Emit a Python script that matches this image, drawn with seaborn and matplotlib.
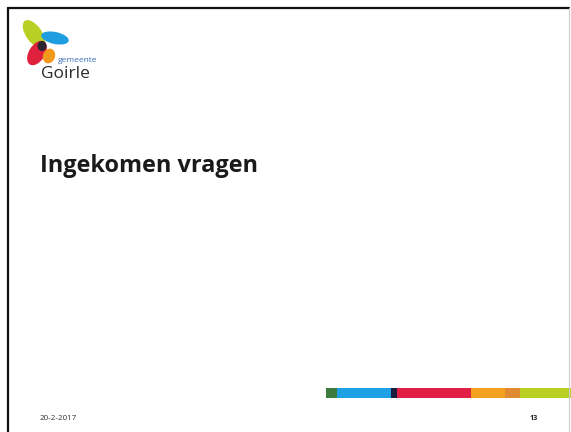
import numpy as np
import matplotlib
matplotlib.use("Agg")
import matplotlib.pyplot as plt
import seaborn as sns
from matplotlib.patches import Ellipse

sns.set_theme(style="white")
plt.rcParams['font.family'] = ['Open Sans', 'DejaVu Sans']

# --- slide content ---
TITLE = "Ingekomen vragen"
DATE = "20-2-2017"
PAGE = "13"

# colour band at the bottom (segment widths in px, colours)
band_widths = [11, 54, 6, 74, 34, 15, 51]
band_colors = ["#3d7a3e", "#1ea0e4", "#1b1d3c", "#e21f47", "#f5a01e", "#e08a32", "#b9cf22"]

fig = plt.figure(figsize=(5.71, 4.32), dpi=100)
ax = fig.add_axes([0, 0, 1, 1])
ax.set_xlim(0, 571)
ax.set_ylim(432, 0)
ax.axis("off")

# scan border
ax.plot([8, 8], [8, 432], color="#111111", lw=1.6)
ax.plot([8, 569], [8, 8], color="#111111", lw=1.6)
ax.plot([569, 569], [8, 432], color="#cccccc", lw=0.8)

# logo
ax.add_patch(Ellipse((34, 34), 16, 32, angle=-35, color="#b7d023", lw=0))
ax.add_patch(Ellipse((55, 38), 28, 12, angle=12, color="#1e9ee0", lw=0))
ax.add_patch(Ellipse((37, 53), 16, 27, angle=32, color="#e0213d", lw=0))
ax.add_patch(Ellipse((49, 56), 12, 15, angle=20, color="#f39a1c", lw=0))
ax.add_patch(Ellipse((42, 46), 9, 10, angle=0, color="#2b2630", lw=0))
ax.text(58, 61, "gemeente", fontsize=6, color="#3a6fb8", va="center", ha="left")
ax.text(41, 74, "Goirle", fontsize=12.5, color="#2a2a2a", va="center", ha="left")

# title
ax.text(40, 166, TITLE, fontsize=16.9, fontweight="bold", color="#1a1a1a",
        va="center", ha="left")

# colour band
lefts = 326 + np.concatenate([[0], np.cumsum(band_widths)[:-1]])
ax.barh([393] * len(band_widths), band_widths, left=lefts, height=10,
        color=band_colors, linewidth=0)

# footer
ax.text(40, 418, DATE, fontsize=5.8, color="#333333", va="center", ha="left")
ax.text(534, 418, PAGE, fontsize=5.2, color="#222222", va="center", ha="center",
        fontweight="bold")

fig.savefig("out.png", dpi=100)
